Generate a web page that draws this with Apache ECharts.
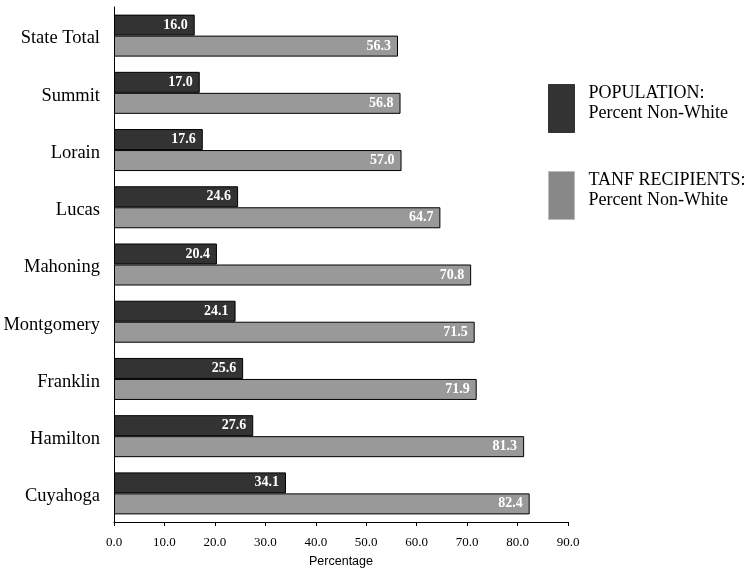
<!DOCTYPE html>
<html><head><meta charset="utf-8">
<script src="https://cdn.jsdelivr.net/npm/echarts@6/dist/echarts.min.js"></script>
<style>html,body{margin:0;padding:0;background:#fff}#c{width:749px;height:570px}</style>
</head><body><div id="c"></div>
<script>
var categories = ['State Total','Summit','Lorain','Lucas','Mahoning','Montgomery','Franklin','Hamilton','Cuyahoga'];
var population = [16.0,17.0,17.6,24.6,20.4,24.1,25.6,27.6,34.1];
var tanf = [56.3,56.8,57.0,64.7,70.8,71.5,71.9,81.3,82.4];
var xTicks = {min:0,max:90,interval:10};
var serif = '"Liberation Serif","DejaVu Serif",serif';
var chart = echarts.init(document.getElementById('c'));
var lbl = {show:true,position:'insideRight',distance:7,color:'#fff',fontWeight:'bold',fontFamily:serif,fontSize:14,formatter:function(p){return p.value.toFixed(1);}};
chart.setOption({
  animation:false,
  grid:{left:114,right:181,top:7,bottom:48,containLabel:false,outerBoundsMode:'none'},
  legend:{
    orient:'vertical',left:548,top:84,padding:0,itemWidth:26,itemHeight:48,itemGap:38,icon:'rect',
    textStyle:{fontFamily:serif,fontSize:18,color:'#000',padding:[0,0,0,9],
      rich:{a:{fontFamily:serif,fontSize:18,color:'#000',lineHeight:20},s:{fontSize:8,lineHeight:10}}},
    formatter:function(n){return n==='POPULATION'?'{a|POPULATION:}\n{a|Percent Non-White}\n{s| }':'{a|TANF RECIPIENTS:}\n{a|Percent Non-White}\n{s| }';},
    data:[{name:'POPULATION',itemStyle:{color:'#333333',borderColor:'#333333',borderWidth:1}},
          {name:'TANF',itemStyle:{color:'#888888',borderColor:'#bbbbbb',borderWidth:1}}]
  },
  xAxis:{type:'value',min:xTicks.min,max:xTicks.max,interval:xTicks.interval,
    name:'Percentage',nameLocation:'middle',nameGap:33,nameTextStyle:{fontFamily:'"Liberation Sans",Arial,sans-serif',fontSize:12.5,color:'#000'},
    axisLine:{show:true,lineStyle:{color:'#000',width:1}},
    axisTick:{show:true,length:4,lineStyle:{color:'#000'}},
    splitLine:{show:false},
    axisLabel:{fontFamily:serif,fontSize:13,color:'#000',margin:14,formatter:function(v){return v.toFixed(1);}}
  },
  yAxis:{type:'category',data:categories,inverse:true,
    axisLine:{show:true,lineStyle:{color:'#000',width:1}},
    axisTick:{show:false},
    axisLabel:{margin:14,formatter:function(v){return '{s| }\n{a|'+v+'}';},
      rich:{s:{fontSize:4,lineHeight:6},a:{fontFamily:serif,fontSize:18.5,color:'#000',lineHeight:22}}}
  },
  series:[
    {name:'POPULATION',type:'bar',data:population,barWidth:21,barGap:'0%',
     itemStyle:{color:'#333333',borderColor:'#000',borderWidth:1},label:lbl},
    {name:'TANF',type:'bar',data:tanf,barWidth:21,barGap:'0%',
     itemStyle:{color:'#999999',borderColor:'#000',borderWidth:1},label:lbl}
  ]
});
</script></body></html>
